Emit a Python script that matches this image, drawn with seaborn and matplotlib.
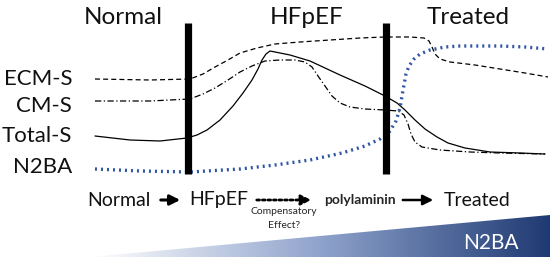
import matplotlib
matplotlib.use("Agg")
import matplotlib.pyplot as plt
import numpy as np
import pandas as pd
import seaborn as sns
from matplotlib.patches import Polygon

# Schematic curves in pixel units (x right, y down)
ecm_x = [95, 150, 190, 203, 215, 228, 240, 257, 275, 300, 330, 360, 385, 410, 424, 429, 432, 435, 440, 450, 475, 500, 525, 548]
ecm_y = [79, 80, 79, 74, 67, 60, 53, 48, 44, 42, 40, 38, 37, 37, 38, 41, 47, 54, 59, 62, 65, 69, 73, 77]

cm_x = [95, 150, 190, 203, 215, 228, 240, 252, 265, 280, 295, 305, 312, 318, 325, 332, 340, 350, 365, 385, 398, 404, 408, 411, 415, 422, 440, 470, 500, 545]
cm_y = [101, 101, 99, 94, 88, 80, 72, 66, 61, 60, 60, 62, 67, 76, 86, 96, 103, 107, 109, 110, 111, 115, 124, 134, 142, 147, 150, 152, 153, 154]

tot_x = [95, 130, 160, 187, 197, 207, 220, 233, 243, 252, 258, 262, 266, 270, 275, 290, 310, 340, 365, 385, 397, 405, 415, 425, 437, 448, 465, 490, 520, 545]
tot_y = [136, 140, 141, 138, 135, 130, 120, 106, 93, 80, 69, 60, 54, 51, 52, 55, 61, 75, 86, 96, 103, 110, 120, 129, 137, 143, 148, 152, 153, 154]

n2ba_x = [95, 140, 190, 240, 275, 310, 342, 365, 380, 390, 396, 400, 402, 404, 406, 409, 414, 420, 430, 445, 460, 480, 500, 525, 548]
n2ba_y = [169, 171, 172, 169, 165, 160, 153, 146, 139, 131, 121, 108, 96, 85, 74, 66, 59, 54, 50, 47, 46, 46, 46, 47, 49]

series_labels = ["ECM-S", "CM-S", "Total-S", "N2BA"]
label_y = [79, 106, 136, 167]
phase_titles = ["Normal", "HFpEF", "Treated"]
phase_x = [123, 307, 468]
bar_x = [188, 386]

BLUE = "#2f55a4"
NAVY = "#1f3a73"

df = pd.concat([
    pd.DataFrame({"x": ecm_x, "y": ecm_y, "curve": "ECM-S"}),
    pd.DataFrame({"x": cm_x, "y": cm_y, "curve": "CM-S"}),
    pd.DataFrame({"x": tot_x, "y": tot_y, "curve": "Total-S"}),
    pd.DataFrame({"x": n2ba_x, "y": n2ba_y, "curve": "N2BA"}),
])

sns.set_style("white")
plt.rcParams["font.family"] = ["Lato", "DejaVu Sans"]

fig = plt.figure(figsize=(5.5, 2.62), dpi=100)
ax = fig.add_axes([0, 0, 1, 1])

styles = {
    "ECM-S": dict(color="black", lw=0.9, dashes=(4, 2.5)),
    "CM-S": dict(color="black", lw=0.9, dashes=(5, 2, 1, 2)),
    "Total-S": dict(color="black", lw=0.9, dashes=""),
    "N2BA": dict(color=BLUE, lw=2.4, dashes=(0.6, 1.2)),
}
for name, sub in df.groupby("curve", sort=False):
    st = styles[name]
    line_ax = sns.lineplot(data=sub, x="x", y="y", ax=ax, sort=False,
                           estimator=None, color=st["color"], lw=st["lw"])
    ln = line_ax.lines[-1]
    if st["dashes"]:
        ln.set_dashes(st["dashes"])

# phase separators
for bx in bar_x:
    ax.plot([bx, bx], [23, 174], color="black", lw=5.2, solid_capstyle="butt")

for t, px in zip(phase_titles, phase_x):
    ax.text(px, 18, t, ha="center", va="center", fontsize=17.5, color="#111111")

for lab, ly in zip(series_labels, label_y):
    ax.text(72, ly, lab, ha="right", va="center", fontsize=16, color="#111111")

# bottom flow
by = 200
head = "-|>,head_length=0.6,head_width=0.3"
ax.text(119, by, "Normal", ha="center", va="center", fontsize=14, color="#111111")
ax.annotate("", xy=(183, by), xytext=(158, by),
            arrowprops=dict(arrowstyle=head, lw=2.2, color="black"))
ax.text(219, by, "HFpEF", ha="center", va="center", fontsize=14, color="#111111")
ax.annotate("", xy=(314, by), xytext=(254, by),
            arrowprops=dict(arrowstyle=head, lw=2, color="black", linestyle=(0, (1, 1))))
ax.text(284, 211, "Compensatory", ha="center", va="center", fontsize=7.5)
ax.text(284, 226, "Effect?", ha="center", va="center", fontsize=7.5)
ax.text(360, by, "polylaminin", ha="center", va="center", fontsize=10, fontweight="bold")
ax.annotate("", xy=(436, by), xytext=(400, by),
            arrowprops=dict(arrowstyle=head, lw=1.8, color="black"))
ax.text(477, by, "Treated", ha="center", va="center", fontsize=14, color="#111111")

# gradient wedge
tri = Polygon([(90, 257), (550, 215), (550, 257)], closed=True, facecolor="none", edgecolor="none")
ax.add_patch(tri)
grad = np.linspace(0, 1, 256)[None, :]
cmap = matplotlib.colors.LinearSegmentedColormap.from_list("wedge", ["#ffffff", "#8fa3cc", NAVY])
im = ax.imshow(grad, extent=[90, 550, 257, 215], cmap=cmap, aspect="auto", zorder=1)
im.set_clip_path(tri)
ax.text(491, 243, "N2BA", ha="center", va="center", fontsize=15, color="white", zorder=2)

ax.set_xlim(0, 550)
ax.set_ylim(262, 0)
ax.set_axis_off()

fig.savefig("out.png", dpi=100)
